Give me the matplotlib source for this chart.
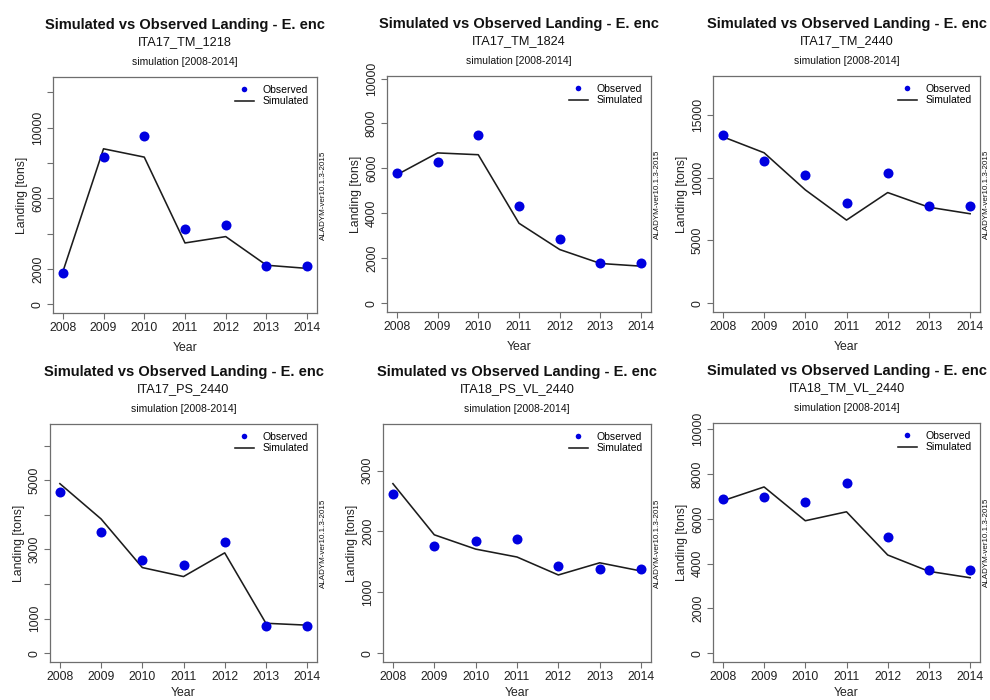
import numpy as np
import matplotlib
matplotlib.use("Agg")
import matplotlib.pyplot as plt
from matplotlib.lines import Line2D

plt.rcParams["font.family"] = ["Liberation Sans", "DejaVu Sans"]

years = [2008, 2009, 2010, 2011, 2012, 2013, 2014]

fleets = ["ITA17_TM_1218", "ITA17_TM_1824", "ITA17_TM_2440",
          "ITA17_PS_2440", "ITA18_PS_VL_2440", "ITA18_TM_VL_2440"]

obs_ita17_tm_1218 = [1760, 8350, 9515, 4240, 4500, 2175, 2175]
sim_ita17_tm_1218 = [1830, 8800, 8330, 3470, 3830, 2210, 2030]

obs_ita17_tm_1824 = [5775, 6290, 7480, 4310, 2855, 1795, 1795]
sim_ita17_tm_1824 = [5715, 6690, 6610, 3560, 2390, 1770, 1650]

obs_ita17_tm_2440 = [13370, 11310, 10175, 7990, 10365, 7720, 7720]
sim_ita17_tm_2440 = [13240, 11970, 9020, 6615, 8805, 7640, 7120]

obs_ita17_ps_2440 = [4655, 3515, 2705, 2560, 3210, 790, 790]
sim_ita17_ps_2440 = [4900, 3880, 2475, 2215, 2900, 865, 810]

obs_ita18_ps_vl_2440 = [2615, 1760, 1840, 1875, 1435, 1385, 1385]
sim_ita18_ps_vl_2440 = [2785, 1945, 1710, 1580, 1285, 1485, 1350]

obs_ita18_tm_vl_2440 = [6870, 6960, 6735, 7605, 5180, 3715, 3715]
sim_ita18_tm_vl_2440 = [6810, 7425, 5915, 6315, 4385, 3655, 3370]

observed = [obs_ita17_tm_1218, obs_ita17_tm_1824, obs_ita17_tm_2440,
            obs_ita17_ps_2440, obs_ita18_ps_vl_2440, obs_ita18_tm_vl_2440]
simulated = [sim_ita17_tm_1218, sim_ita17_tm_1824, sim_ita17_tm_2440,
             sim_ita17_ps_2440, sim_ita18_ps_vl_2440, sim_ita18_tm_vl_2440]

ytick_step = [2000, 2000, 5000, 1000, 1000, 2000]
sparse_labels = [True, False, False, True, False, False]

# plot boxes in pixels: left, top, right, bottom
boxes = [(53, 77, 317, 313), (387, 76, 651, 312), (713, 76, 980, 312),
         (50, 424, 317, 662), (383, 424, 651, 662), (713, 423, 980, 662)]

W, H = 990, 700
fig = plt.figure(figsize=(W / 100, H / 100), dpi=100)

box_col = "#6e6e6e"
txt_col = "#222222"

for i in range(6):
    l, t, r, b = boxes[i]
    ax = fig.add_axes([l / W, 1 - b / H, (r - l) / W, (b - t) / H])
    obs = np.array(observed[i])
    sim = np.array(simulated[i])
    ymax = 1.3 * max(obs.max(), sim.max())

    ax.plot(years, sim, color="#1c1c1c", lw=1.15, zorder=2)
    ax.plot(years, obs, "o", color="#0000e0", ms=7.2, mec="none", zorder=3)

    ax.set_xlim(2008 - 0.24, 2014 + 0.24)
    ax.set_ylim(-0.04 * ymax, 1.04 * ymax)
    ax.set_xticks(years)
    ax.set_xticklabels([str(y) for y in years])
    yt = np.arange(0, 1.04 * ymax, ytick_step[i])
    ax.set_yticks(yt)
    labs = []
    for k, v in enumerate(yt):
        if sparse_labels[i] and k >= 2 and k % 2 == 0:
            labs.append("")
        else:
            labs.append(str(int(v)))
    ax.set_yticklabels(labs, rotation=90, va="center")

    for s in ax.spines.values():
        s.set_color(box_col)
        s.set_linewidth(0.9)
    ax.tick_params(axis="both", colors=box_col, labelcolor=txt_col,
                   labelsize=8.8, length=4, width=0.8, pad=2.5)

    # bottom row sits at the lower edge, keep "Year" inside the canvas
    xpad = 5.5 if i < 3 else 3.0
    ax.set_xlabel("Year", fontsize=8.8, color=txt_col, labelpad=xpad)
    ax.set_ylabel("Landing [tons]", fontsize=8.8, color=txt_col, labelpad=3)

    ax.annotate("Simulated vs Observed Landing - E. enc", (0.5, 1),
                xycoords="axes fraction", xytext=(0, 52),
                textcoords="offset pixels", ha="center", va="center",
                fontsize=10.5, fontweight="bold", color="#111111")
    ax.annotate(fleets[i], (0.5, 1), xycoords="axes fraction",
                xytext=(0, 35), textcoords="offset pixels", ha="center",
                va="center", fontsize=9.2, color="#111111")
    ax.annotate("simulation [2008-2014]", (0.5, 1), xycoords="axes fraction",
                xytext=(0, 15), textcoords="offset pixels", ha="center",
                va="center", fontsize=7.5, color="#111111")
    ax.annotate("ALADYM-ver10.1.3-2015", (1, 0.5), xycoords="axes fraction",
                xytext=(6, 0), textcoords="offset pixels", ha="center",
                va="center", rotation=90, fontsize=5.8, color="#111111")

    handles = [Line2D([], [], ls="none", marker="o", color="#0000e0",
                      ms=4, mec="none"),
               Line2D([], [], color="#1c1c1c", lw=1.15)]
    ax.legend(handles, ["Observed", "Simulated"], loc="upper right",
              frameon=False, fontsize=7.5, handlelength=1.8,
              handletextpad=0.9, labelspacing=0.15, borderaxespad=0.45,
              borderpad=0.3)

fig.savefig("out.png", dpi=100)
